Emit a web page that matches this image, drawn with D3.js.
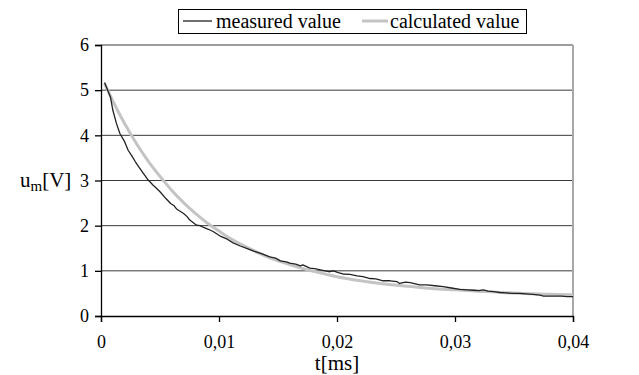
<!DOCTYPE html>
<html>
<head>
<meta charset="utf-8">
<script src="https://cdn.jsdelivr.net/npm/d3@7/dist/d3.min.js"></script>
</head>
<body style="margin:0">
<svg id="chart" width="639" height="375" font-family="Liberation Serif, Tinos, FreeSerif, Times New Roman, serif"></svg>
<script>
// Time axis [ms]
const xTicks = [0, 0.01, 0.02, 0.03, 0.04];
const xTickLabels = ["0", "0,01", "0,02", "0,03", "0,04"];
const yTicks = [0, 1, 2, 3, 4, 5, 6];
const yTickLabels = ["0", "1", "2", "3", "4", "5", "6"];
const seriesNames = ["measured value", "calculated value"];

// measured voltage u_m [V] over time t [ms]
const measuredT = [
  0.0003, 0.0008, 0.0010, 0.0013, 0.0016, 0.0020, 0.0023, 0.0026, 0.0029, 0.0032,
  0.0035, 0.0040, 0.0044, 0.0047, 0.0050, 0.0055, 0.0059, 0.0062, 0.0064, 0.0070,
  0.0073, 0.0075, 0.0081, 0.0084, 0.0087, 0.0091, 0.0095, 0.0101, 0.0107, 0.0112,
  0.0118, 0.0124, 0.0130, 0.0136, 0.0143, 0.0148, 0.0152, 0.0157, 0.0160, 0.0165,
  0.0169, 0.0171, 0.0177, 0.0181, 0.0186, 0.0193, 0.0197, 0.0201, 0.0205, 0.0211,
  0.0217, 0.0222, 0.0228, 0.0233, 0.0239, 0.0245, 0.0251, 0.0253, 0.0258, 0.0262,
  0.0270, 0.0276, 0.0283, 0.0290, 0.0297, 0.0304, 0.0310, 0.0316, 0.0320, 0.0324,
  0.0328, 0.0333, 0.0338, 0.0343, 0.0349, 0.0355, 0.0360, 0.0366, 0.0372, 0.0375,
  0.0382, 0.0390, 0.0395, 0.0400
];
const measuredU = [
  5.17, 4.85, 4.56, 4.27, 4.04, 3.86, 3.67, 3.55, 3.42, 3.30,
  3.19, 3.01, 2.90, 2.83, 2.75, 2.60, 2.49, 2.44, 2.37, 2.27,
  2.20, 2.13, 2.01, 2.00, 1.96, 1.92, 1.87, 1.77, 1.70, 1.62,
  1.55, 1.49, 1.43, 1.38, 1.31, 1.28, 1.22, 1.20, 1.17, 1.15,
  1.11, 1.13, 1.06, 1.05, 1.02, 0.98, 1.00, 0.96, 0.93, 0.92,
  0.89, 0.87, 0.83, 0.82, 0.78, 0.78, 0.76, 0.72, 0.75, 0.74,
  0.69, 0.69, 0.67, 0.65, 0.62, 0.59, 0.58, 0.57, 0.56, 0.58,
  0.55, 0.54, 0.52, 0.51, 0.50, 0.50, 0.49, 0.48, 0.46, 0.44,
  0.44, 0.44, 0.43, 0.43
];

// calculated voltage [V] over time t [ms]
const calculatedT = [
  0.0003, 0.001, 0.002, 0.003, 0.004, 0.005, 0.006, 0.007, 0.008, 0.009,
  0.010, 0.011, 0.012, 0.013, 0.014, 0.015, 0.016, 0.017, 0.018, 0.019,
  0.020, 0.022, 0.024, 0.026, 0.028, 0.030, 0.032, 0.034, 0.036, 0.038, 0.040
];
const calculatedU = [
  5.15, 4.76, 4.26, 3.82, 3.43, 3.09, 2.78, 2.51, 2.27, 2.06,
  1.88, 1.71, 1.57, 1.44, 1.32, 1.22, 1.14, 1.06, 0.99, 0.93,
  0.87, 0.78, 0.71, 0.66, 0.61, 0.58, 0.55, 0.52, 0.50, 0.48, 0.47
];

const FAMILY = "Liberation Serif, Tinos, FreeSerif, Times New Roman, serif";
const serif = sel => sel.attr("font-family", FAMILY).style("font-family", "'Liberation Serif', 'Tinos', 'FreeSerif', serif");

const svg = d3.select("#chart");
const plot = { left: 101, right: 573, top: 45, bottom: 316 };

const x = d3.scaleLinear().domain([0, 0.04]).range([plot.left, plot.right]);
const y = d3.scaleLinear().domain([0, 6]).range([plot.bottom, plot.top]);

// horizontal grid lines
svg.append("g")
  .selectAll("line")
  .data(yTicks.filter(v => v > 0))
  .join("line")
  .attr("x1", plot.left).attr("x2", plot.right)
  .attr("y1", d => y(d)).attr("y2", d => y(d))
  .attr("stroke", "#3a3a3a").attr("stroke-width", 1);

// right border of the plot area
svg.append("line")
  .attr("x1", plot.right).attr("x2", plot.right)
  .attr("y1", plot.top).attr("y2", plot.bottom)
  .attr("stroke", "#a8a8a8").attr("stroke-width", 2);

// series
const calcData = calculatedT.map((t, i) => [t, calculatedU[i]]);
const measData = measuredT.map((t, i) => [t, measuredU[i]]);

svg.append("path")
  .datum(calcData)
  .attr("d", d3.line().x(d => x(d[0])).y(d => y(d[1])).curve(d3.curveMonotoneX))
  .attr("fill", "none")
  .attr("stroke", "#c4c4c4")
  .attr("stroke-width", 3);

svg.append("path")
  .datum(measData)
  .attr("d", d3.line().x(d => x(d[0])).y(d => y(d[1])))
  .attr("fill", "none")
  .attr("stroke", "#222")
  .attr("stroke-width", 1.3)
  .attr("stroke-linejoin", "round");

// x axis
const xAxis = d3.axisBottom(x)
  .tickValues(xTicks)
  .tickSize(6)
  .tickPadding(13)
  .tickFormat((d, i) => xTickLabels[i]);
const gx = svg.append("g").attr("transform", `translate(0,${plot.bottom})`).call(xAxis);
gx.call(serif).attr("font-size", 18);
gx.select(".domain").attr("stroke", "#000").attr("stroke-width", 1.3);
gx.selectAll(".tick line").attr("stroke", "#000").attr("stroke-width", 1.3);
gx.selectAll(".tick text").call(serif).attr("font-size", 18).attr("fill", "#000");

// y axis
const yAxis = d3.axisLeft(y)
  .tickValues(yTicks)
  .tickSize(6)
  .tickPadding(6)
  .tickFormat((d, i) => yTickLabels[i]);
const gy = svg.append("g").attr("transform", `translate(${plot.left},0)`).call(yAxis);
gy.call(serif).attr("font-size", 18);
gy.select(".domain").attr("stroke", "#000").attr("stroke-width", 1.3);
gy.selectAll(".tick line").attr("stroke", "#000").attr("stroke-width", 1.3);
gy.selectAll(".tick text").call(serif).attr("font-size", 18).attr("fill", "#000");

// axis titles
svg.append("text")
  .attr("x", (plot.left + plot.right) / 2)
  .attr("y", 370)
  .attr("text-anchor", "middle")
  .attr("font-size", 21)
  .call(serif)
  .text("t[ms]");

const yt = svg.append("text").attr("x", 20).attr("y", 187)
  .attr("font-size", 21).call(serif);
yt.append("tspan").text("u");
yt.append("tspan").attr("font-size", 15).attr("dy", 4).text("m");
yt.append("tspan").attr("dy", -4).text("[V]");

// legend
const legend = svg.append("g");
legend.append("rect")
  .attr("x", 178.5).attr("y", 9.5).attr("width", 348).attr("height", 24)
  .attr("fill", "#fff").attr("stroke", "#000").attr("stroke-width", 1);
legend.append("line")
  .attr("x1", 183).attr("x2", 212).attr("y1", 21).attr("y2", 21)
  .attr("stroke", "#222").attr("stroke-width", 1.3);
legend.append("text")
  .attr("x", 216).attr("y", 28)
  .attr("font-size", 20).call(serif)
  .text(seriesNames[0]);
legend.append("line")
  .attr("x1", 362).attr("x2", 388).attr("y1", 21).attr("y2", 21)
  .attr("stroke", "#c4c4c4").attr("stroke-width", 3);
legend.append("text")
  .attr("x", 390).attr("y", 28)
  .attr("font-size", 20).call(serif)
  .text(seriesNames[1]);
</script>
</body>
</html>
